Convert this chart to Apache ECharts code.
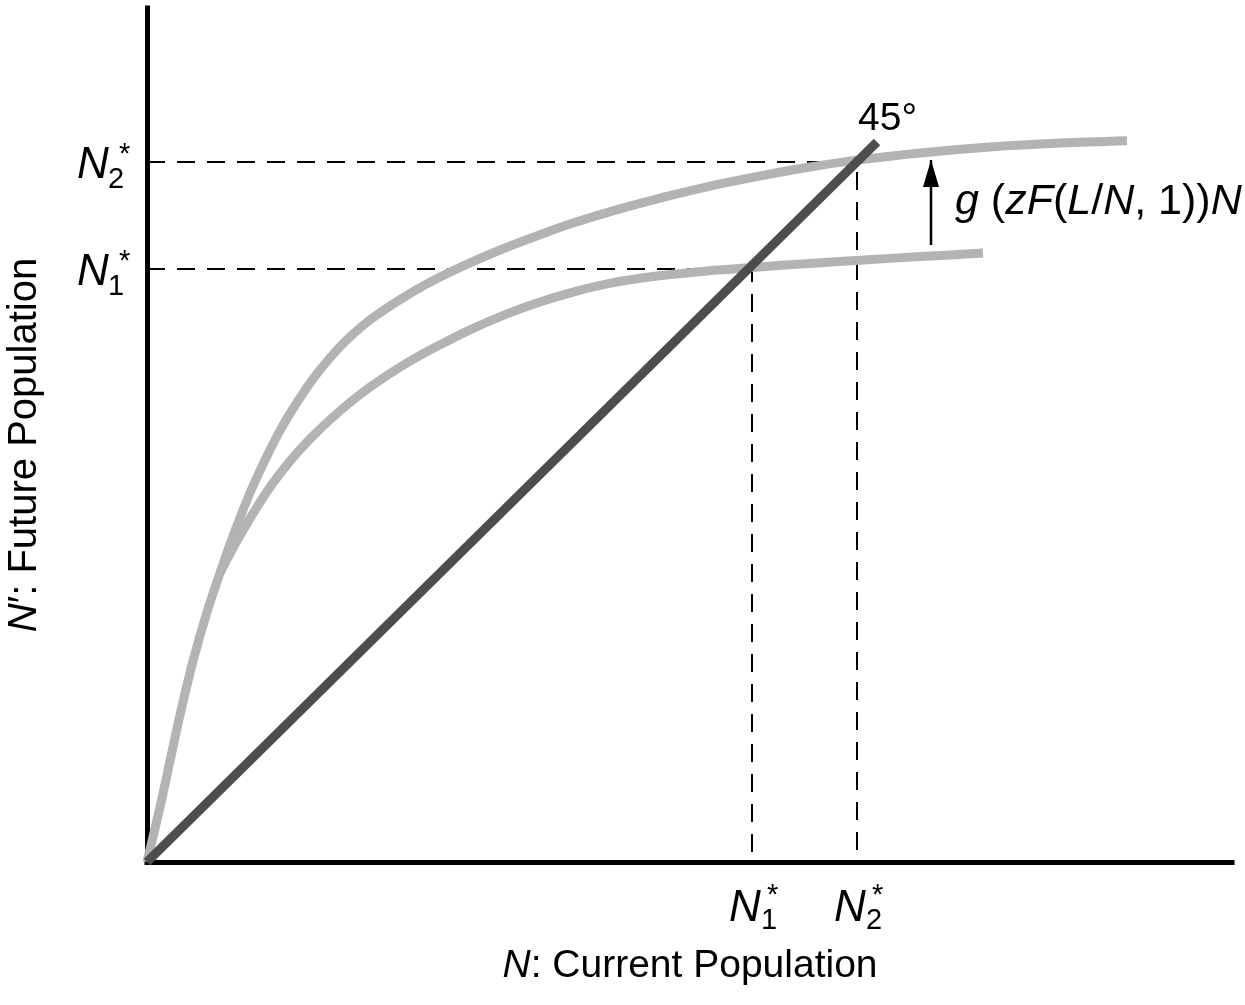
<!DOCTYPE html>
<html><head><meta charset="utf-8">
<script src="https://cdn.jsdelivr.net/npm/echarts@6/dist/echarts.min.js"></script>
<style>html,body{margin:0;padding:0;background:#fff}#c{width:1245px;height:1005px}</style>
</head><body><div id="c"></div>
<script>
// ---- data ----
const upperCurve = [[0,0],[1.3,5.5],[2.3,10.1],[3.3,14.7],[4.6,20.1],[6,25],[7.3,28.9],[8.6,32.6],[10.6,37.6],[13.3,43.14],[16,47.46],[18,50.06],[20,52.22],[22.6,54.43],[26,56.67],[29.3,58.49],[32.8,60.14],[36,61.48],[39.3,62.73],[42.6,63.89],[46,64.94],[49.3,65.86],[52.6,66.72],[56,67.52],[59.3,68.21],[62.6,68.85],[66.3,69.5],[70.6,70.14],[77.3,70.91],[84.3,71.5],[91.3,71.89],[98,72.12]];
const lowerCurve = [[7.3,28.9],[8.6,31.4],[9.8,33.5],[11,35.5],[12.6,37.9],[14.6,40.45],[16.6,42.6],[18.6,44.5],[21.3,46.75],[24,48.65],[26.6,50.26],[29.3,51.72],[32.3,53.22],[36,54.81],[39.3,56],[42.6,56.99],[46,57.81],[49.3,58.37],[52.6,58.77],[56,59.11],[60.6,59.46],[66.3,59.86],[71.3,60.18],[77.3,60.54],[83.6,60.89]];
const line45 = [[0,0],[73,72]];
const eqX = [60.5, 71];     // N1*, N2* on the current-population axis
const eqY = [59.3, 70.0];   // N1*, N2* on the future-population axis
const tickSubs = ['1', '2'];
const shiftArrow = [[78.4, 61.7], [78.4, 70.2]];
const xMax = 108.5, yMax = 85.4;
const xTitle = '{i|N}{r|: Current Population}';
const yTitle = '{i|N}{r|\u2032: Future Population}';
const angleLabel = '45\u00b0';
const shiftLabel = '{i|g}{r| (}{i|zF}{r|(}{i|L}{r|/}{i|N}{r|, 1))}{i|N}';

const FONT = "'Liberation Sans', Arial, Helvetica, sans-serif";
const chart = echarts.init(document.getElementById('c'), null, {renderer: 'canvas'});

const dashStyle = {color: '#000', width: 2, type: [18, 12]};
const axisCommon = {
  type: 'value', splitLine: {show: false}, axisTick: {show: false}, axisLabel: {show: false},
  axisLine: {show: true, lineStyle: {color: '#000', width: 5, cap: 'square'}}
};
const curveStyle = {color: '#b3b3b3', width: 9, cap: 'butt', join: 'round'};

chart.setOption({
  animation: false,
  backgroundColor: '#fff',
  grid: {left: 147, right: 13, top: 8, bottom: 143, containLabel: false},
  xAxis: Object.assign({min: 0, max: xMax}, axisCommon),
  yAxis: Object.assign({min: 0, max: yMax}, axisCommon),
  series: [
    {type: 'line', data: [[0, eqY[0]], [eqX[0], eqY[0]], [eqX[0], 0]], symbol: 'none', lineStyle: dashStyle, z: 1},
    {type: 'line', data: [[0, eqY[1]], [eqX[1], eqY[1]], [eqX[1], 0]], symbol: 'none', lineStyle: dashStyle, z: 1},
    {type: 'line', data: upperCurve, symbol: 'none', smooth: 0.33, lineStyle: curveStyle, z: 2},
    {type: 'line', data: lowerCurve, symbol: 'none', smooth: 0.33, lineStyle: curveStyle, z: 2},
    {type: 'line', data: line45, symbol: 'none', lineStyle: {color: '#4d4d4d', width: 9, cap: 'butt'}, z: 3},
    {type: 'line', showSymbol: true, symbol: 'none',
     data: [shiftArrow[0], {value: shiftArrow[1], symbol: 'triangle', symbolSize: [16, 27], symbolOffset: [0, 13.5], itemStyle: {color: '#000'}}],
     lineStyle: {color: '#000', width: 2.5}, itemStyle: {color: '#000'}, z: 4}
  ]
});

function px(x, y) { return chart.convertToPixel({gridIndex: 0}, [x, y]); }
function txt(x, y, text, size, opts) {
  return {
    type: 'text', x: x, y: y, silent: true,
    style: Object.assign({text: text, fontSize: size, fontFamily: FONT, fill: '#000', align: 'left', verticalAlign: 'middle'}, opts || {})
  };
}
const rich = (s) => ({r: {fontSize: s, fontFamily: FONT, fill: '#000'}, i: {fontSize: s, fontFamily: FONT, fontStyle: 'italic', fill: '#000'}});

const g = [];
for (let k = 0; k < eqX.length; k++) {
  const tx = px(eqX[k], 0)[0];
  g.push(txt(tx - 23, 909, 'N', 44, {fontStyle: 'italic'}));
  g.push(txt(tx + 9, 921, tickSubs[k], 29));
  g.push(txt(tx + 15, 896, '*', 29));
  const ty = px(0, eqY[k])[1];
  g.push(txt(77, ty + 4, 'N', 44, {fontStyle: 'italic'}));
  g.push(txt(108, ty + 18, tickSubs[k], 29));
  g.push(txt(119, ty - 7, '*', 29));
}
const end45 = px(line45[1][0], line45[1][1]);
g.push(txt(end45[0] - 19, end45[1] - 23, angleLabel, 39));
const arr = px(shiftArrow[1][0], (shiftArrow[0][1] + shiftArrow[1][1]) / 2);
g.push(txt(arr[0] + 24, 202, shiftLabel, 43, {rich: rich(43)}));
g.push(txt(690, 966, xTitle, 39, {align: 'center', rich: rich(39)}));
g.push({type: 'text', x: 25, y: 445, rotation: Math.PI / 2, silent: true,
  style: {text: yTitle, fontSize: 40, fontFamily: FONT, fill: '#000', align: 'center', verticalAlign: 'middle', rich: rich(40)}});

chart.setOption({graphic: {elements: g}});
</script>
</body></html>
